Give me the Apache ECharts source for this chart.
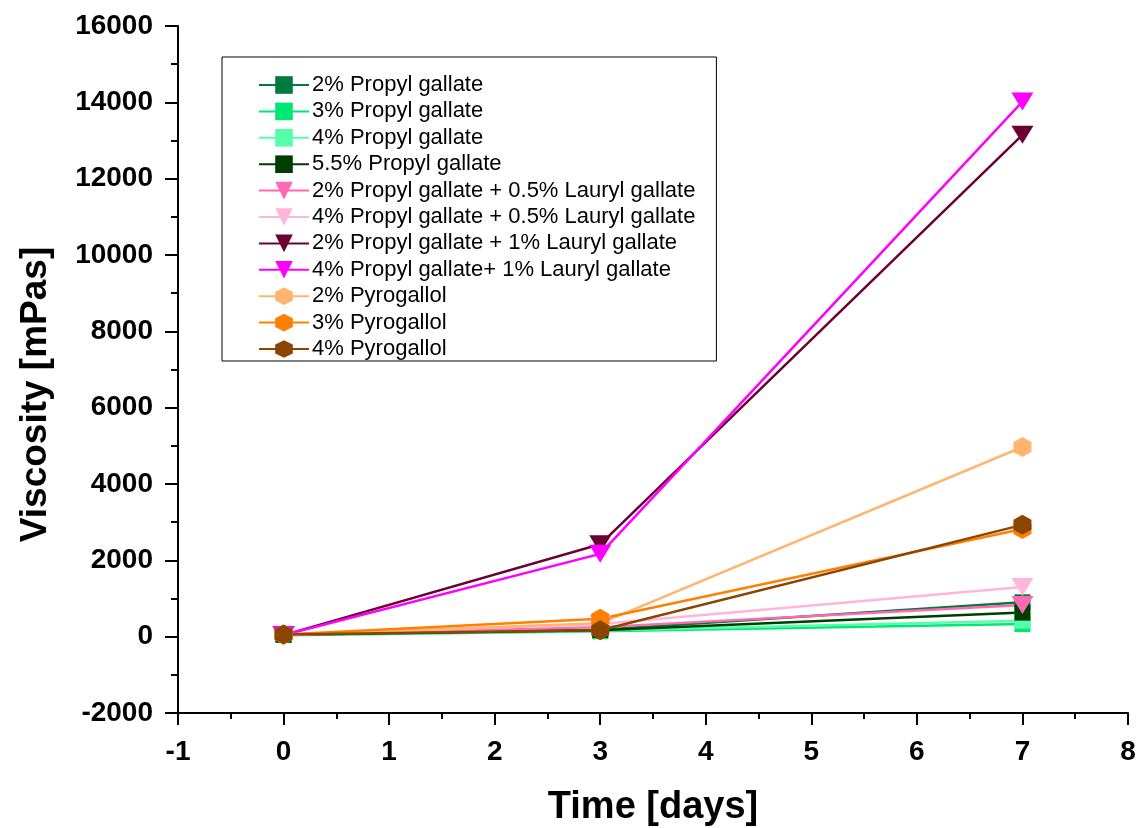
<!DOCTYPE html>
<html><head><meta charset="utf-8">
<script src="https://cdn.jsdelivr.net/npm/echarts@6/dist/echarts.min.js"></script>
<style>html,body{margin:0;padding:0;background:#fff}#c{width:1145px;height:828px}</style>
</head><body><div id="c"></div>
<script>
const days = [0, 3, 7];
const seriesNames = [
  "2% Propyl gallate",
  "3% Propyl gallate",
  "4% Propyl gallate",
  "5.5% Propyl gallate",
  "2% Propyl gallate + 0.5% Lauryl gallate",
  "4% Propyl gallate + 0.5% Lauryl gallate",
  "2% Propyl gallate + 1% Lauryl gallate",
  "4% Propyl gallate+ 1% Lauryl gallate",
  "2% Pyrogallol",
  "3% Pyrogallol",
  "4% Pyrogallol"
];
const pg2 = [50, 180, 900];
const pg3 = [40, 140, 330];
const pg4 = [45, 160, 420];
const pg55 = [50, 170, 630];
const pg2lg05 = [45, 250, 830];
const pg4lg05 = [50, 330, 1300];
const pg2lg1 = [40, 2420, 13150];
const pg4lg1 = [45, 2170, 14020];
const pyro2 = [50, 350, 4970];
const pyro3 = [55, 470, 2820];
const pyro4 = [60, 170, 2930];
const values = [pg2, pg3, pg4, pg55, pg2lg05, pg4lg05, pg2lg1, pg4lg1, pyro2, pyro3, pyro4];
const colors = ["#007A3D", "#00E874", "#55FFAA", "#003D00", "#FF69B4", "#FFB6DB", "#6B0033", "#FF00FF", "#FFB570", "#FF8000", "#8B4500"];
const hex = 'path://M0,-10L8.66,-5L8.66,5L0,10L-8.66,5L-8.66,-5Z';
const symbols = ['rect','rect','rect','rect','triangle','triangle','triangle','triangle',hex,hex,hex];
const rotations = [0,0,0,0,180,180,180,180,0,0,0];
const sizes = [16,16,16,16,[22,18],[22,18],[22,18],[22,18],[18,20],[18,20],[18,20]];

const chart = echarts.init(document.getElementById('c'));
const axisFont = {fontFamily: 'Liberation Sans, Arial', fontWeight: 'bold', fontSize: 28, color: '#000'};
chart.setOption({
  animation: false,
  backgroundColor: '#fff',
  grid: {left: 178, right: 17, top: 26, bottom: 115, outerBoundsMode: 'none', containLabel: false},
  legend: {
    orient: 'vertical', left: 222, top: 57,
    padding: [17, 21, 1, 36],
    itemGap: 4.4, itemWidth: 50, itemHeight: 22,
    borderColor: '#000', borderWidth: 1, backgroundColor: '#fff',
    textStyle: {fontFamily: 'Liberation Sans, Arial', fontSize: 22, color: '#000', padding: [0,0,0,-2]},
    data: seriesNames
  },
  xAxis: {
    type: 'value', min: -1, max: 8, interval: 1,
    name: 'Time [days]', nameLocation: 'middle', nameGap: 76,
    nameTextStyle: {fontFamily: 'Liberation Sans, Arial', fontWeight: 'bold', fontSize: 38, color: '#000'},
    axisLine: {onZero: false, lineStyle: {color: '#000', width: 2}},
    axisTick: {inside: false, length: 12, lineStyle: {width: 2, color: '#000'}},
    minorTick: {show: true, splitNumber: 2, length: 6, lineStyle: {width: 2, color: '#000'}},
    splitLine: {show: false},
    axisLabel: Object.assign({margin: 25}, axisFont)
  },
  yAxis: {
    type: 'value', min: -2000, max: 16000, interval: 2000,
    name: 'Viscosity [mPas]', nameLocation: 'middle', nameGap: 124,
    nameTextStyle: {fontFamily: 'Liberation Sans, Arial', fontWeight: 'bold', fontSize: 37, color: '#000', padding: [0, 50, 0, 0]},
    axisLine: {show: true, onZero: false, lineStyle: {color: '#000', width: 2}},
    axisTick: {show: true, inside: false, length: 13, lineStyle: {width: 2, color: '#000'}},
    minorTick: {show: true, splitNumber: 2, length: 7, lineStyle: {width: 2, color: '#000'}},
    splitLine: {show: false},
    axisLabel: Object.assign({margin: 25, formatter: v => String(v)}, axisFont)
  },
  series: seriesNames.map((n, i) => ({
    name: n, type: 'line',
    data: days.map((d, j) => [d, values[i][j]]),
    symbol: symbols[i], symbolSize: sizes[i], symbolRotate: rotations[i],
    showAllSymbol: true,
    lineStyle: {color: colors[i], width: 2.5},
    itemStyle: {color: colors[i], borderWidth: 0},
    emphasis: {disabled: true}
  }))
});
</script></body></html>
